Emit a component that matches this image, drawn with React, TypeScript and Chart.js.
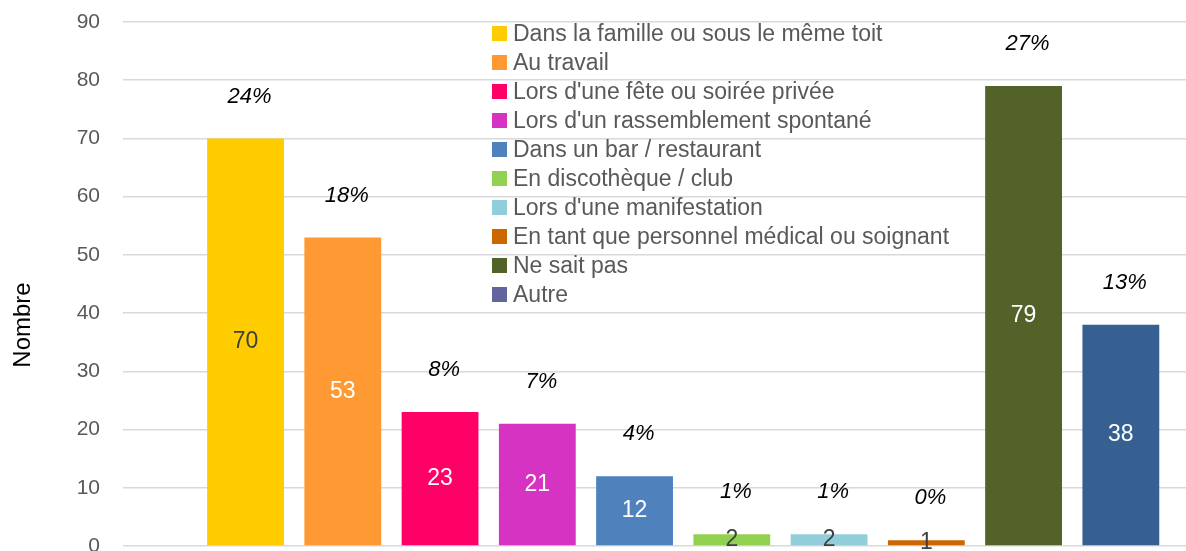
import React, { useEffect, useRef } from 'react';
import { Chart, registerables } from 'chart.js';

Chart.register(...registerables);

const categories = [
  'Dans la famille ou sous le même toit',
  'Au travail',
  "Lors d'une fête ou soirée privée",
  "Lors d'un rassemblement spontané",
  'Dans un bar / restaurant',
  'En discothèque / club',
  "Lors d'une manifestation",
  'En tant que personnel médical ou soignant',
  'Ne sait pas',
  'Autre',
];
const counts = [70, 53, 23, 21, 12, 2, 2, 1, 79, 38];
const percentLabels = ['24%', '18%', '8%', '7%', '4%', '1%', '1%', '0%', '27%', '13%'];
const yTicks = [0, 10, 20, 30, 40, 50, 60, 70, 80, 90];
const yTitle = 'Nombre';

const barColors = ['#FFCC00', '#FF9933', '#FF0066', '#D633C3', '#4F81BD', '#92D050', '#92CDDC', '#CC6600', '#526229', '#376092'];
const legendColors = ['#FFCC00', '#FF9933', '#FF0066', '#D633C3', '#4F81BD', '#92D050', '#92CDDC', '#CC6600', '#526229', '#64649C'];
const valueLabelColors = ['#404040', '#FFFFFF', '#FFFFFF', '#FFFFFF', '#FFFFFF', '#404040', '#404040', '#404040', '#FFFFFF', '#FFFFFF'];

const FONT = '"Liberation Sans", Arial, sans-serif';

const labelsPlugin = {
  id: 'barLabels',
  afterDatasetsDraw(chart: any) {
    const ctx = chart.ctx;
    const meta = chart.getDatasetMeta(0);
    meta.data.forEach((bar: any, i: number) => {
      const { x, y, base } = bar.getProps(['x', 'y', 'base'], true);
      ctx.save();
      ctx.textAlign = 'center';
      ctx.textBaseline = 'middle';
      ctx.font = `23px ${FONT}`;
      ctx.fillStyle = valueLabelColors[i];
      ctx.fillText(String(counts[i]), x, (y + base) / 2);
      ctx.font = `italic 22px ${FONT}`;
      ctx.fillStyle = '#000000';
      ctx.fillText(percentLabels[i], x + 4, y - 42);
      ctx.restore();
    });
    // y-axis title
    const area = chart.chartArea;
    ctx.save();
    ctx.translate(23, (area.top + area.bottom) / 2 + 41);
    ctx.rotate(-Math.PI / 2);
    ctx.textAlign = 'center';
    ctx.textBaseline = 'middle';
    ctx.font = `24px ${FONT}`;
    ctx.fillStyle = '#000000';
    ctx.fillText(yTitle, 0, 0);
    ctx.restore();
  },
};

export default function App() {
  const canvasRef = useRef<HTMLCanvasElement | null>(null);

  useEffect(() => {
    document.body.style.margin = '0';
    const canvas = canvasRef.current;
    if (!canvas) return;
    const chart = new Chart(canvas, {
      type: 'bar',
      data: {
        datasets: [
          {
            label: 'Nombre',
            data: counts.map((v, i) => ({ x: i, y: v })),
            backgroundColor: barColors,
            borderWidth: 0,
            categoryPercentage: 1,
            barPercentage: 0.79,
          },
        ],
      },
      options: {
        animation: false,
        responsive: false,
        layout: { padding: { top: 22, right: 0, bottom: 5, left: 0 } },
        plugins: {
          legend: { display: false },
          tooltip: { enabled: false },
        },
        scales: {
          x: {
            type: 'linear',
            display: false,
            offset: false,
            min: -1.26,
            max: 9.67,
            afterBuildTicks: (axis: any) => {
              axis.ticks = categories.map((_, i) => ({ value: i }));
            },
          },
          y: {
            min: 0,
            max: 90,
            afterBuildTicks: (axis: any) => {
              axis.ticks = yTicks.map((v) => ({ value: v }));
            },
            afterFit: (scale: any) => {
              scale.width = 123;
            },
            ticks: {
              color: '#595959',
              font: { size: 21, family: FONT, lineHeight: 0.4 },
              padding: 0,
            },
            grid: { color: '#D9D9D9', lineWidth: 1.5, drawTicks: true, tickLength: 23, tickColor: 'rgba(0,0,0,0)' },
            border: { display: false },
            title: { display: false },
          },
        },
      },
      plugins: [labelsPlugin],
    });
    return () => chart.destroy();
  }, []);

  return (
    <div style={{ position: 'absolute', left: 0, top: 0, width: 1186, height: 551, background: '#fff' }}>
      <canvas ref={canvasRef} width={1186} height={551} style={{ display: 'block' }} />
      <div style={{ position: 'absolute', left: 492, top: 18.5, fontFamily: FONT, fontSize: 23, color: '#595959' }}>
        {categories.map((c, i) => (
          <div key={c} style={{ height: 29.1, display: 'flex', alignItems: 'center', whiteSpace: 'nowrap' }}>
            <span style={{ display: 'inline-block', width: 15, height: 15, background: legendColors[i], marginRight: 6, flex: 'none' }} />
            <span>{c}</span>
          </div>
        ))}
      </div>
    </div>
  );
}
